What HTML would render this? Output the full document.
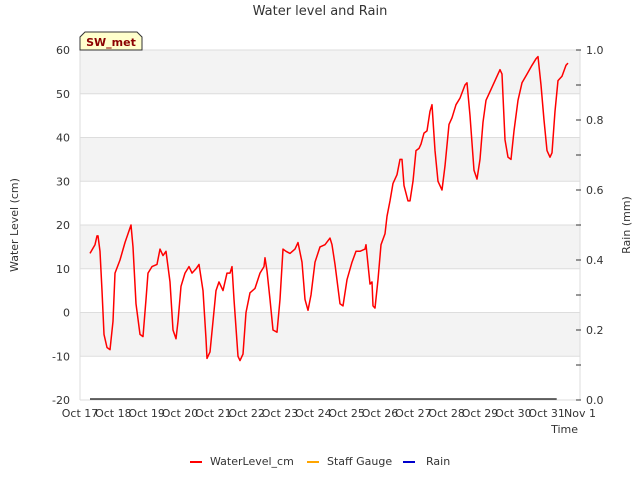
<!DOCTYPE html>
<html><head><meta charset="utf-8"><style>
body{margin:0;background:#fff;font-family:"Liberation Sans","DejaVu Sans",sans-serif;}
svg text{font-family:"DejaVu Sans","Liberation Sans",sans-serif;}
</style></head><body>
<svg id="chart" width="640" height="480" xmlns="http://www.w3.org/2000/svg">
<text x="320" y="15" text-anchor="middle" font-size="13" fill="#333">Water level and Rain</text>
<g id="bands"></g><g id="grid"></g><g id="axes"></g><g id="series"></g>
<g>
<path d="M80,50 L80,37 L85,32 L137,32 L142,37 L142,50 Z" fill="#ffffcc" stroke="#333" stroke-width="1"/>
<text x="111" y="46" text-anchor="middle" font-size="11" font-weight="bold" fill="#8b0000">SW_met</text>
</g>
<text x="18" y="225" transform="rotate(-90 18 225)" text-anchor="middle" font-size="11" fill="#333">Water Level (cm)</text>
<text x="630" y="225" transform="rotate(-90 630 225)" text-anchor="middle" font-size="11" fill="#333">Rain (mm)</text>
<text x="578" y="433" text-anchor="end" font-size="11" fill="#333">Time</text>
<g>
<g><line x1="190" y1="462" x2="202" y2="462" stroke="#ff0000" stroke-width="2"/><text x="210" y="465" font-size="11" fill="#333">WaterLevel_cm</text></g>
<g><line x1="307" y1="462" x2="319" y2="462" stroke="#ffa500" stroke-width="2"/><text x="327" y="465" font-size="11" fill="#333">Staff Gauge</text></g>
<g><line x1="403" y1="462" x2="415" y2="462" stroke="#0000cc" stroke-width="2"/><text x="426" y="465" font-size="11" fill="#333">Rain</text></g>
</g>
</svg>
<script>
const days=[0.30,0.45,0.51,0.54,0.60,0.66,0.72,0.81,0.90,0.99,1.05,1.20,1.35,1.53,1.59,1.68,1.80,1.89,1.98,2.04,2.16,2.31,2.40,2.49,2.58,2.70,2.79,2.88,2.94,3.03,3.15,3.27,3.36,3.48,3.57,3.69,3.78,3.81,3.90,3.99,4.08,4.17,4.29,4.41,4.50,4.56,4.62,4.74,4.80,4.89,4.98,5.10,5.25,5.40,5.52,5.55,5.61,5.70,5.79,5.91,6.00,6.09,6.18,6.30,6.45,6.54,6.66,6.75,6.84,6.93,7.05,7.20,7.35,7.50,7.56,7.65,7.80,7.89,8.01,8.16,8.28,8.40,8.55,8.58,8.64,8.70,8.76,8.79,8.85,8.94,9.03,9.15,9.21,9.30,9.39,9.51,9.60,9.66,9.72,9.84,9.90,9.99,10.08,10.17,10.23,10.32,10.41,10.50,10.56,10.65,10.74,10.86,10.95,11.07,11.16,11.28,11.40,11.55,11.61,11.70,11.82,11.91,12.00,12.09,12.18,12.33,12.48,12.60,12.66,12.75,12.84,12.93,13.02,13.14,13.26,13.41,13.56,13.68,13.74,13.83,13.92,14.01,14.10,14.16,14.25,14.34,14.46,14.58,14.64];
const waterLevel=[13.5,15.5,17.5,17.5,14,5,-5,-8,-8.5,-2,9,12,16,20,15,2,-5,-5.5,3,9,10.5,11,14.5,13,14,7,-4,-6,-2,6,9,10.5,9,10,11,5,-6,-10.5,-9,-2,5,7,5,9,9,10.5,3,-10,-11,-9.5,0,4.5,5.5,9,10.5,12.5,9.5,3,-4,-4.5,3,14.5,14,13.5,14.5,16,11.5,3,0.5,4,11.5,15,15.5,17,15.5,11,2,1.5,7.5,11.5,14,14,14.5,15.5,11,6.5,7,1.5,1,7.5,15.5,18,22,25.5,29.5,31.5,35,35,29,25.5,25.5,30,37,37.5,38.5,41,41.5,46,47.5,37,30,28,33.5,43,44.5,47.5,49,52,52.5,45,32.5,30.5,35,43.5,48.5,51,53.5,55.5,54.5,39.5,35.5,35,41.5,48.5,52.5,54.5,56.5,58,58.5,52,44,37,35.5,36.5,46,53,54,56.5,57];
const rainDays=[0.3,14.3];
const rainValues=[0,0];
const xTicks=["Oct 17","Oct 18","Oct 19","Oct 20","Oct 21","Oct 22","Oct 23","Oct 24","Oct 25","Oct 26","Oct 27","Oct 28","Oct 29","Oct 30","Oct 31","Nov 1"];
const yTicks=[-20,-10,0,10,20,30,40,50,60];
const y2Ticks=["0.0","0.2","0.4","0.6","0.8","1.0"];
const NS="http://www.w3.org/2000/svg";
const L=80,R=580,T=50,B=400;
const xs=d=>L+d*(R-L)/15;
const ys=v=>B-(v+20)*(B-T)/80;
const y2s=v=>B-v*(B-T)/1;
function mk(tag,attrs,parent){const e=document.createElementNS(NS,tag);for(const k in attrs)e.setAttribute(k,attrs[k]);parent.appendChild(e);return e;}
const bands=document.getElementById('bands'),grid=document.getElementById('grid'),axes=document.getElementById('axes'),series=document.getElementById('series');
for(let i=0;i<yTicks.length-1;i++){
  if(i%2===1){const r=mk('rect',{x:L,y:ys(yTicks[i+1]),width:R-L,height:ys(yTicks[i])-ys(yTicks[i+1]),fill:'#f3f3f3'},bands);
  
  }
}
mk('line',{x1:L,x2:L,y1:T,y2:B,stroke:'#dddddd','stroke-width':1},grid);
mk('line',{x1:R,x2:R,y1:T,y2:B,stroke:'#dddddd','stroke-width':1},grid);
yTicks.forEach(v=>{
  const g=mk('line',{x1:L,x2:R,y1:ys(v),y2:ys(v),stroke:'#dddddd','stroke-width':1},grid);
  
  
  const t=mk('text',{x:L-10,y:ys(v)+4,'text-anchor':'end','font-size':11,fill:'#333'},axes);
  t.textContent=v;
  
  
});
xTicks.forEach((s,i)=>{
  const t=mk('text',{x:xs(i),y:B+17,'text-anchor':'middle','font-size':11,fill:'#333'},axes);
  t.textContent=s;
  
  
});
for(let k=0;k<=10;k++){
  const v=k/10;
  mk('line',{x1:R-4,x2:R+1,y1:y2s(v),y2:y2s(v),stroke:'#333','stroke-width':1},axes);
  if(k%2===0){const t=mk('text',{x:R+6,y:y2s(v)+4,'font-size':11,fill:'#333'},axes);
  t.textContent=y2Ticks[k/2];
  
  }
}
const p=mk('polyline',{points:days.map((d,i)=>xs(d).toFixed(1)+','+ys(waterLevel[i]).toFixed(1)).join(' '),fill:'none',stroke:'#ff0000','stroke-width':1.5,'stroke-linejoin':'round'},series);


const rp=mk('polyline',{points:rainDays.map((d,i)=>xs(d).toFixed(1)+','+(y2s(rainValues[i])-1).toFixed(1)).join(' '),fill:'none',stroke:'#111','stroke-width':1.2},series);


</script>
</body></html>
